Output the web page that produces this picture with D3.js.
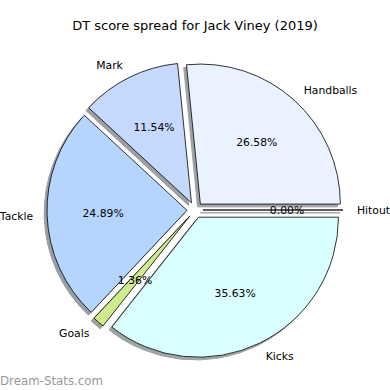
<!DOCTYPE html>
<html>
<head>
<meta charset="utf-8">
<script src="https://cdn.jsdelivr.net/npm/d3@7"></script>
<style>
  body { margin: 0; background: #fff; }
  text { font-family: "DejaVu Sans", sans-serif; }
</style>
</head>
<body>
<svg class="pie" width="390" height="390"></svg>
<script>
const categories = ['Hitout', 'Handballs', 'Mark', 'Tackle', 'Goals', 'Kicks'];
const percents = [0.00, 26.58, 11.54, 24.89, 1.36, 35.63];
const colors = ['#f0f0f0', '#eaf1ff', '#c5d9ff', '#b5d5ff', '#d0ea90', '#d9ffff'];

const cx = 195;
const cy = 210;
const radius = 140;
const explode = 8;

const data = categories.map((c, i) => ({ name: c, value: percents[i], color: colors[i] }));

// counter-clockwise from 3 o'clock, like matplotlib
const pie = d3.pie()
    .sort(null)
    .value(d => d.value)
    .startAngle(Math.PI / 2)
    .endAngle(Math.PI / 2 - 2 * Math.PI);

const arc = d3.arc()
    .innerRadius(0)
    .outerRadius(radius);

const arcs = pie(data);

const mid = d => (d.startAngle + d.endAngle) / 2;
const dirX = d => Math.sin(mid(d));
const dirY = d => -Math.cos(mid(d));
const shade = c => { const r = d3.rgb(c); return d3.rgb(r.r * 0.3, r.g * 0.3, r.b * 0.3); };

const svg = d3.select('.pie');

svg.append('text')
    .attr('x', cx)
    .attr('y', 30)
    .attr('text-anchor', 'middle')
    .attr('font-size', 13)
    .text('DT score spread for Jack Viney (2019)');

const g = svg.append('g')
    .attr('transform', 'translate(' + cx + ',' + cy + ')');

g.selectAll('path.shadow')
    .data(arcs)
.enter().append('path')
    .attr('class', 'shadow')
    .attr('transform', d => 'translate(' + (dirX(d) * explode - 2.8) + ',' + (dirY(d) * explode + 2.8) + ')')
    .attr('d', arc)
    .attr('fill', d => shade(d.data.color))
    .attr('stroke', d => shade(d.data.color))
    .attr('stroke-width', 1)
    .attr('opacity', 0.5);

g.selectAll('path.slice')
    .data(arcs)
.enter().append('path')
    .attr('class', 'slice')
    .attr('transform', d => 'translate(' + dirX(d) * explode + ',' + dirY(d) * explode + ')')
    .attr('d', arc)
    .attr('fill', d => d.data.color)
    .attr('stroke', '#000')
    .attr('stroke-width', 0.8)
    .attr('stroke-linejoin', 'round');

g.selectAll('text.label')
    .data(arcs)
.enter().append('text')
    .attr('class', 'label')
    .attr('x', d => dirX(d) * (explode + radius * 1.1))
    .attr('y', d => dirY(d) * (explode + radius * 1.1))
    .attr('dy', '0.35em')
    .attr('text-anchor', d => dirX(d) > 0 ? 'start' : 'end')
    .attr('font-size', 10.8)
    .text(d => d.data.name);

g.selectAll('text.pct')
    .data(arcs)
.enter().append('text')
    .attr('class', 'pct')
    .attr('x', d => dirX(d) * (explode + radius * 0.6))
    .attr('y', d => dirY(d) * (explode + radius * 0.6))
    .attr('dy', '0.35em')
    .attr('text-anchor', 'middle')
    .attr('font-size', 10.8)
    .text(d => d.data.value.toFixed(2) + '%');

svg.append('text')
    .attr('x', 0)
    .attr('y', 385)
    .attr('font-size', 11.8)
    .attr('fill', '#999')
    .text('Dream-Stats.com');
</script>
</body>
</html>
